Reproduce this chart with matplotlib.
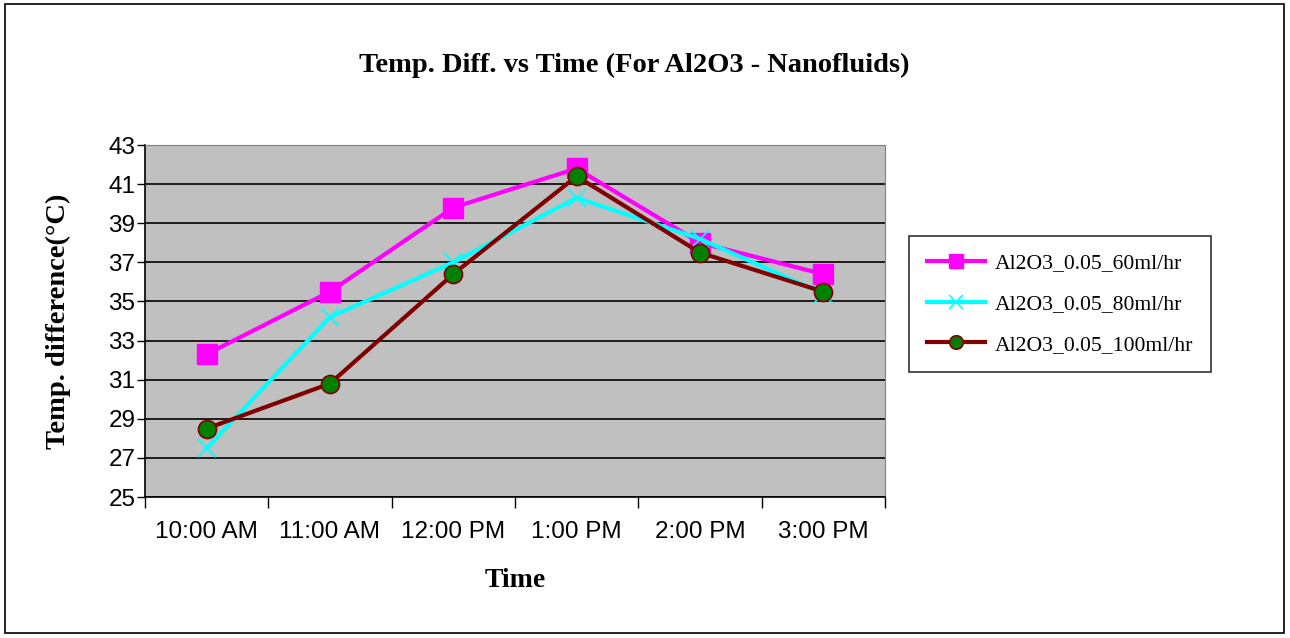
import matplotlib.pyplot as plt
from matplotlib.patches import Rectangle

# Data
times = ['10:00 AM', '11:00 AM', '12:00 PM', '1:00 PM', '2:00 PM', '3:00 PM']
flow_60 = [32.3, 35.5, 39.8, 41.8, 38.0, 36.4]
flow_80 = [27.5, 34.2, 37.0, 40.3, 38.2, 35.4]
flow_100 = [28.5, 30.8, 36.4, 41.4, 37.5, 35.5]
labels = ['Al2O3_0.05_60ml/hr', 'Al2O3_0.05_80ml/hr', 'Al2O3_0.05_100ml/hr']
y_ticks = list(range(25, 44, 2))

SERIF = ['Liberation Serif', 'DejaVu Serif']
SANS = ['Liberation Sans', 'DejaVu Sans']


def main() -> None:
    fig = plt.figure(figsize=(12.9, 6.38), dpi=100)
    fig.patches.append(Rectangle((0.004, 0.008), 0.991, 0.985, transform=fig.transFigure,
                                 fill=False, edgecolor='black', linewidth=1.2))

    ax = fig.add_axes([0.1124, 0.221, 0.5736, 0.5517])
    ax.set_facecolor('#C0C0C0')

    x = list(range(len(times)))
    ax.plot(x, flow_60, color='#FF00FF', linewidth=3, marker='s', markersize=14,
            label=labels[0], zorder=3)
    ax.plot(x, flow_80, color='#00FFFF', linewidth=3, marker='x', markersize=13,
            markeredgewidth=1.2, label=labels[1], zorder=4)
    ax.plot(x, flow_100, color='#800000', linewidth=3, marker='o', markersize=13,
            markerfacecolor='#008000', markeredgecolor='#800000', markeredgewidth=1.2,
            label=labels[2], zorder=5)

    ax.set_xlim(-0.5, len(times) - 0.5)
    ax.set_ylim(25, 43)
    ax.set_yticks(y_ticks)
    ax.yaxis.grid(True, color='black', linewidth=1.2)
    ax.set_axisbelow(True)

    # category ticks sit on the boundaries, labels in the middle
    ax.set_xticks([i - 0.5 for i in range(len(times) + 1)])
    ax.set_xticklabels([])
    ax.set_xticks(x, minor=True)
    ax.set_xticklabels(times, minor=True, fontfamily=SANS, fontsize=17.5)
    ax.tick_params(axis='x', which='major', direction='out', length=8, width=1)
    ax.tick_params(axis='x', which='minor', length=0, pad=17)
    ax.tick_params(axis='y', direction='out', length=6, width=1, labelsize=17.5, pad=1)
    for t in ax.get_yticklabels():
        t.set_fontfamily(SANS)

    for side in ('top', 'right'):
        ax.spines[side].set_color('#808080')
    for side in ('left', 'bottom'):
        ax.spines[side].set_color('black')
        ax.spines[side].set_linewidth(1.2)

    fig.text(0.492, 0.897, 'Temp. Diff. vs Time (For Al2O3 - Nanofluids)',
             ha='center', va='center', fontfamily=SERIF, fontweight='bold', fontsize=20.5)
    ax.set_xlabel('Time', fontfamily=SERIF, fontweight='bold', fontsize=20, labelpad=18)
    ax.set_ylabel('Temp. difference(°C)', fontfamily=SERIF, fontweight='bold',
                  fontsize=20.5, labelpad=27)

    leg = fig.legend(loc='center left', bbox_to_anchor=(0.705, 0.5235), borderaxespad=0,
                     prop={'family': SERIF, 'size': 15.6}, frameon=True, fancybox=False,
                     edgecolor='black', handlelength=2.7, handletextpad=0.45,
                     labelspacing=0.94, borderpad=0.8, markerscale=0.75)
    leg.get_frame().set_linewidth(1.2)

    plt.savefig('out.png', dpi=100)
    plt.close()


if __name__ == '__main__':
    main()
